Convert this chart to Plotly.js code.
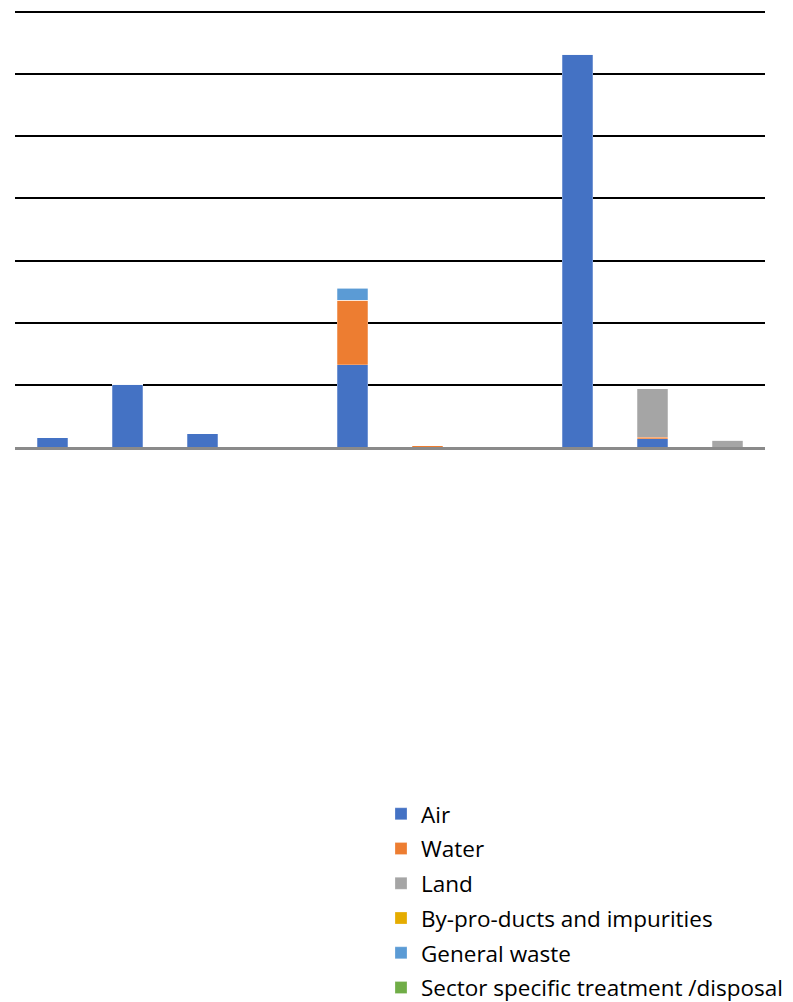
<!DOCTYPE html>
<html>
<head>
<meta charset="utf-8">
<script src="https://cdn.plot.ly/plotly-3.0.1.min.js"></script>
<style>html,body{margin:0;padding:0;background:#fff;overflow:hidden}#chart{width:793px;height:1002px}</style>
</head>
<body>
<div id="chart"></div>
<script>
var categories = ["C1","C2","C3","C4","C5","C6","C7","C8","C9","C10"];
var seriesNames = ["Air","Water","Land","By-pro-ducts and impurities","General waste","Sector specific treatment /disposal"];
var air        = [0.15, 1.01, 0.21, 0, 1.32, 0,    0, 6.32, 0.13, 0];
var water      = [0,    0,    0,    0, 1.04, 0.02, 0, 0,    0.03, 0];
var land       = [0,    0,    0,    0, 0,    0,    0, 0,    0.78, 0.11];
var byproducts = [0,    0,    0,    0, 0,    0,    0, 0,    0,    0];
var generalWaste=[0,    0,    0,    0, 0.19, 0,    0, 0,    0,    0];
var sectorSpecific=[0,  0,    0,    0, 0,    0,    0, 0,    0,    0];
var colors = ["#4472C4","#ED7D31","#A5A5A5","#E5AC00","#5B9BD5","#70AD47"];
var values = [air, water, land, byproducts, generalWaste, sectorSpecific];

var traces = values.map(function(v, i){
  return {
    type: "bar",
    name: seriesNames[i],
    legendgroup: "g" + i,
    x: categories,
    y: v,
    marker: {color: colors[i], line: {color: "rgba(255,255,255,0.5)", width: 0.5}},
    hoverinfo: "none"
  };
});

var layout = {
  width: 793, height: 1002,
  margin: {l: 15, r: 28, t: 10, b: 555, autoexpand: false},
  barmode: "stack",
  bargap: 0.59,
  paper_bgcolor: "#fff",
  plot_bgcolor: "#fff",
  showlegend: true,
  legend: {
    x: 0.488, xanchor: "left",
    y: -0.791, yanchor: "top",
    traceorder: "grouped",
    font: {family: "Open Sans, sans-serif", size: 22.5, color: "#000"},
    itemwidth: 30,
    tracegroupgap: 2.5,
    bgcolor: "rgba(0,0,0,0)"
  },
  xaxis: {
    type: "category",
    showticklabels: false,
    showgrid: false,
    ticks: "",
    showline: true,
    linecolor: "#8a8a8a",
    linewidth: 2.5,
    zeroline: false,
    fixedrange: true
  },
  yaxis: {
    range: [0, 7.03],
    dtick: 1,
    tick0: 0,
    showticklabels: false,
    showgrid: true,
    gridcolor: "#000",
    gridwidth: 2,
    zeroline: false,
    ticks: "",
    fixedrange: true
  }
};

Plotly.newPlot("chart", traces, layout, {displayModeBar: false, staticPlot: true});
</script>
</body>
</html>
